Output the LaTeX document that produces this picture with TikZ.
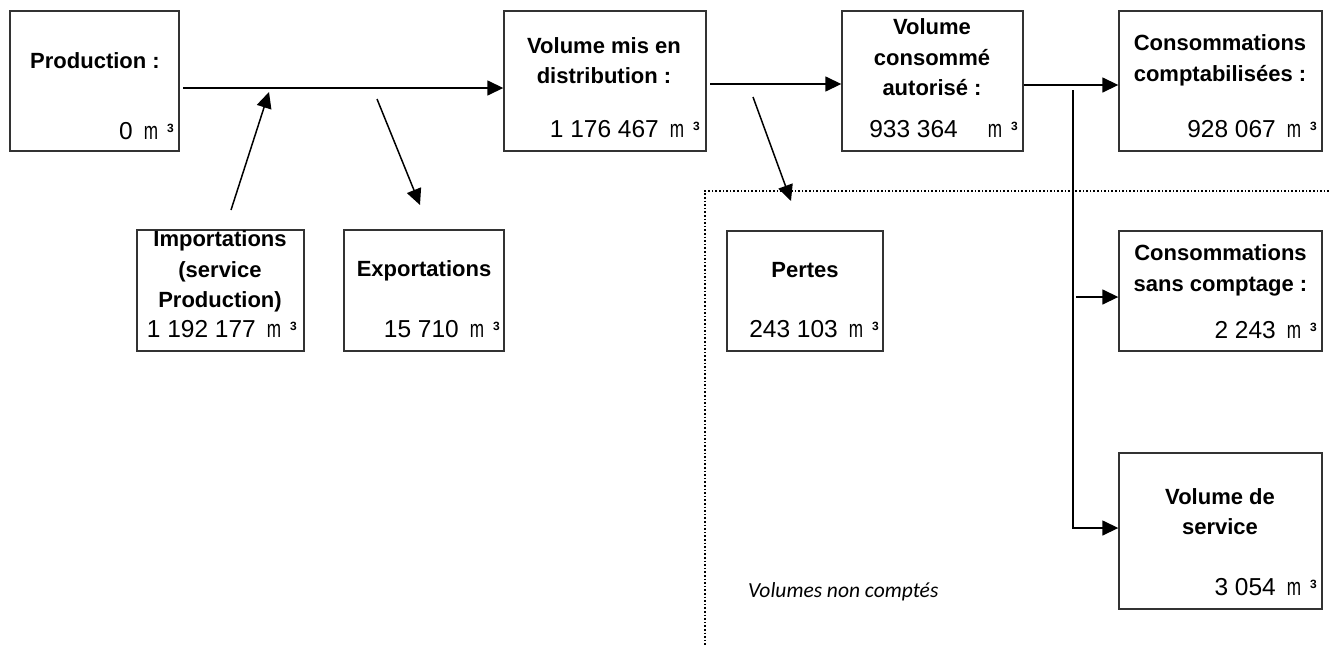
\documentclass[tikz,border=0pt]{standalone}
\usepackage{fontspec}
\setmainfont{Liberation Sans}
\newfontfamily\carlito{Carlito}
\usetikzlibrary{arrows.meta}
\newcommand{\volval}[2][11pt]{{\fontsize{24.5}{24.5}\selectfont #2\hspace{#1}\scalebox{0.7}[1]{m}}\hspace{9pt}{\fontsize{12}{12}\selectfont\bfseries\raisebox{7pt}{3}}}
\begin{document}
\begin{tikzpicture}[x=1pt,y=-1pt,
  box/.style={draw=black!80, line width=1.4pt, inner sep=0pt},
  ttl/.style={font=\fontsize{22}{30.5}\selectfont\bfseries, align=center, inner sep=0pt},
  val/.style={anchor=east, inner sep=0pt},
  arr/.style={line width=1.5pt, -{Triangle[length=16pt,width=15pt]}},
  dotline/.style={line width=1.4pt, dash pattern=on 1.6pt off 2pt},
  note/.style={font=\carlito\itshape\fontsize{21.5}{22}\selectfont, inner sep=0pt}
  ]
\fill[white] (0,0) rectangle (1329,645);
\useasboundingbox (0,0) rectangle (1329,645);

% dotted region
\draw[dotline] (1329,191) -- (705,191) -- (705,645);

% boxes
\node[box, minimum width=169pt, minimum height=140pt] (prod) at (94.5,81) {};
\node[box, minimum width=202pt, minimum height=140pt] (vmd) at (605,81) {};
\node[box, minimum width=181pt, minimum height=140pt] (vca) at (932.5,81) {};
\node[box, minimum width=203pt, minimum height=140pt] (cc) at (1220.5,81) {};
\node[box, minimum width=167pt, minimum height=121pt] (imp) at (220.5,290.5) {};
\node[box, minimum width=160pt, minimum height=121pt] (exp) at (424,290.5) {};
\node[box, minimum width=156pt, minimum height=120pt] (pertes) at (805,291) {};
\node[box, minimum width=203pt, minimum height=120pt] (csc) at (1220.5,291) {};
\node[box, minimum width=203pt, minimum height=156pt] (vds) at (1220.5,531) {};

% titles
\node[ttl] (prod-t) at (95,61) {Production :};
\node[ttl] (vmd-t) at (604,60.5) {Volume mis en\\distribution :};
\node[ttl] (vca-t) at (932,57.5) {Volume\\consommé\\autorisé :};
\node[ttl] (cc-t) at (1220,60.5) {Consommations\\comptabilisées :};
\node[ttl] (imp-t) at (220,271.5) {Importations\\(service\\Production)};
\node[ttl] (exp-t) at (424,271) {Exportations};
\node[ttl] (pertes-t) at (805,270) {Pertes};
\node[ttl] (csc-t) at (1220.5,270.5) {Consommations\\sans comptage :};
\node[ttl] (vds-t) at (1220,511.5) {Volume de\\service};

% values
\node[val] (prod-v) at (174,131) {\volval{0}};
\node[val] (vmd-v) at (700,129) {\volval{1 176 467}};
\node[val] (vca-v) at (1018,129) {\volval[30pt]{933 364}};
\node[val] (cc-v) at (1317,129) {\volval{928 067}};
\node[val] (imp-v) at (297,329) {\volval{1 192 177}};
\node[val] (exp-v) at (500,329) {\volval{15 710}};
\node[val] (pertes-v) at (879,329) {\volval{243 103}};
\node[val] (csc-v) at (1317,330) {\volval{2 243}};
\node[val] (vds-v) at (1317,587) {\volval{3 054}};

\node[note, anchor=west] (nc) at (748,592) {Volumes non comptés};

% connectors
\coordinate (m0) at (183,88);
\draw[arr] (m0) -- (m0 -| vmd.west);
\coordinate (impA) at (231,210);
\coordinate (impB) at (269,92);
\draw[arr] (impA) -- (impB);
\coordinate (expA) at (377,99);
\coordinate (expB) at (420,205);
\draw[arr] (expA) -- (expB);
\coordinate (a0) at (710,84);
\draw[arr] (a0) -- (a0 -| vca.west);
\coordinate (pA) at (753,97);
\coordinate (pB) at (791,201);
\draw[arr] (pA) -- (pB);
\draw[arr] ([yshift=-4pt]vca.east) -- ([yshift=-4pt]cc.west);
\coordinate (br) at (1073,90);
\draw[arr] (br) |- ([yshift=3pt]vds.west);
\coordinate (bs) at (1076,297);
\draw[arr] (bs) -- (bs -| csc.west);
\end{tikzpicture}
\end{document}
